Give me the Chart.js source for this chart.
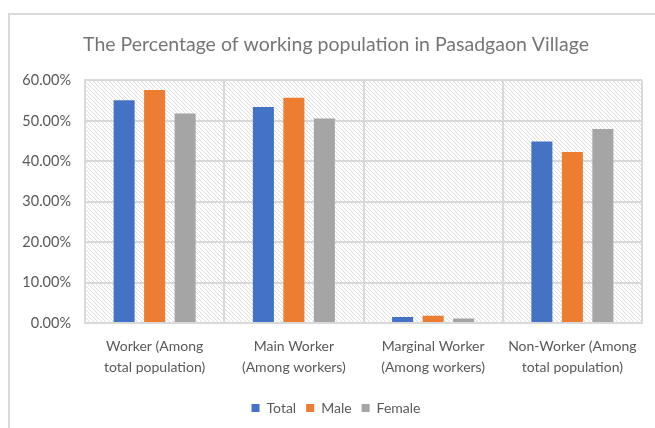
<!DOCTYPE html>
<html>
<head>
<meta charset="utf-8">
<script src="https://cdn.jsdelivr.net/npm/chart.js@4"></script>
<style>
  html, body { margin: 0; padding: 0; background: #fff; overflow: hidden; }
  #wrap { width: 672px; height: 428px; position: relative; }
</style>
</head>
<body>
<div id="wrap"><canvas id="chart"></canvas></div>
<script>
    // 데이터
    const categories = [
        ['Worker (Among', 'total population)'],
        ['Main Worker', '(Among workers)'],
        ['Marginal Worker', '(Among workers)'],
        ['Non-Worker (Among', 'total population)']
    ];
    const totalValues = [55.1, 53.4, 1.5, 44.9];
    const maleValues = [57.6, 55.7, 1.8, 42.3];
    const femaleValues = [51.8, 50.6, 1.1, 48.0];
    const yTicks = [0, 10, 20, 30, 40, 50, 60];

    const textColor = '#595959';
    const gridColor = '#d9d9d9';
    const font = 'Lato';

    // 빗금 배경 패턴
    function makeHatch(ctx) {
        const c = document.createElement('canvas');
        c.width = 4; c.height = 4;
        const p = c.getContext('2d');
        p.fillStyle = '#fff';
        p.fillRect(0, 0, 4, 4);
        p.fillStyle = '#dedede';
        for (let i = 0; i < 4; i++) p.fillRect(i, i, 1, 1);
        return ctx.createPattern(c, 'repeat');
    }

    const backdrop = {
        id: 'backdrop',
        beforeDraw(chart) {
            const ctx = chart.ctx;
            const a = chart.chartArea;
            ctx.save();
            ctx.strokeStyle = gridColor;
            ctx.lineWidth = 2;
            ctx.strokeRect(9, 14, 700, 500);
            ctx.fillStyle = makeHatch(ctx);
            ctx.fillRect(a.left, a.top, a.right - a.left, a.bottom - a.top);
            ctx.restore();
        }
    };

    new Chart(document.getElementById('chart'), {
        type: 'bar',
        data: {
            labels: categories,
            datasets: [
                { label: 'Total', data: totalValues, backgroundColor: '#4472c4' },
                { label: 'Male', data: maleValues, backgroundColor: '#ed7d31' },
                { label: 'Female', data: femaleValues, backgroundColor: '#a5a5a5' }
            ]
        },
        options: {
            responsive: true,
            maintainAspectRatio: false,
            animation: false,
            categoryPercentage: 0.657,
            barPercentage: 0.69,
            layout: { padding: { left: 30, right: 30, top: 33, bottom: 3 } },
            plugins: {
                tooltip: { enabled: false },
                title: {
                    display: true,
                    text: 'The Percentage of working population in Pasadgaon Village',
                    color: '#767676',
                    font: { family: font, size: 19.5, weight: 'normal' },
                    padding: { top: 0, bottom: 24 }
                },
                legend: {
                    position: 'bottom',
                    labels: {
                        color: textColor,
                        font: { family: font, size: 14 },
                        boxWidth: 8,
                        boxHeight: 8,
                        padding: 10
                    }
                }
            },
            scales: {
                x: {
                    grid: { color: gridColor, lineWidth: 2, drawTicks: false, offset: true },
                    border: { color: gridColor, width: 2 },
                    ticks: {
                        color: textColor,
                        font: { family: font, size: 14, lineHeight: 1.5 },
                        padding: 13,
                        maxRotation: 0,
                        autoSkip: false
                    }
                },
                y: {
                    min: 0,
                    max: 60,
                    afterBuildTicks: s => { s.ticks = yTicks.map(v => ({ value: v })); },
                    afterFit: s => {
                        s.width = 55;
                        // 축 폭보다 긴 눈금 글자가 잘리지 않게
                        s._computeLabelArea = () => undefined;
                    },
                    grid: { color: gridColor, lineWidth: 2, drawTicks: false },
                    border: { color: gridColor, width: 2 },
                    ticks: {
                        color: textColor,
                        font: { family: font, size: 14.5 },
                        padding: 14,
                        callback: v => v.toFixed(2) + '%'
                    }
                }
            }
        },
        plugins: [backdrop]
    });
</script>
</body>
</html>
